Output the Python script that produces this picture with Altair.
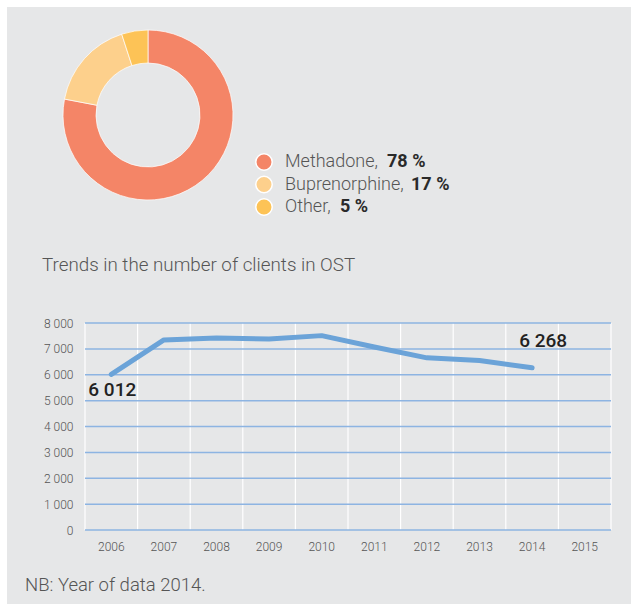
import altair as alt
import pandas as pd

# ---- data ----
categories = ["Methadone", "Buprenorphine", "Other"]
shares = [78, 17, 5]
slice_colors = ["#F48567", "#FDD08C", "#FDC356"]

years = ["2006", "2007", "2008", "2009", "2010", "2011", "2012", "2013", "2014", "2015"]
line_years = ["2006", "2007", "2008", "2009", "2010", "2011", "2012", "2013", "2014"]
clients = [6012, 7346, 7423, 7385, 7512, 7070, 6654, 6550, 6268]

y_ticks = [0, 1000, 2000, 3000, 4000, 5000, 6000, 7000, 8000]

chart_title = "Trends in the number of clients in OST"
note = "NB: Year of data 2014."

FONT = "Roboto"
BG = "#E6E7E8"
GRID_BLUE = "#8DB4E2"

pie_df = pd.DataFrame({"cat": categories, "share": shares, "rank": [0, 1, 2]})
pie_df["label"] = pie_df["cat"] + ","
pie_df["pct"] = pie_df["share"].astype(str) + " %"

line_df = pd.DataFrame({"year": line_years, "clients": clients})
ends_df = line_df.iloc[[0, -1]].copy()
ends_df["txt"] = ends_df["clients"].apply(lambda v: f"{v:,}".replace(",", " "))
years_df = pd.DataFrame({"year": years})
ticks_df = pd.DataFrame({"v": y_ticks})

color_scale = alt.Scale(domain=categories, range=slice_colors)
x_scale = alt.Scale(domain=years, type="band", paddingInner=0, paddingOuter=0)
y_scale = alt.Scale(domain=[0, 8000], nice=False)

x_axis = alt.Axis(
    title=None, grid=False, domain=False, ticks=False, labelAngle=0, labelFont=FONT,
    labelFontWeight=300, labelFontSize=12, labelColor="#555555", labelPadding=11, zindex=1,
)
y_axis = alt.Axis(
    title=None, orient="left", values=y_ticks, grid=False, domain=False, ticks=False,
    labelFont=FONT, labelFontWeight=300, labelFontSize=12, labelColor="#555555",
    labelPadding=12, zindex=1,
    labelExpr="replace(format(datum.value, ','), ',', ' ')",
)

# ---- background panel ----
panel = alt.Chart(pd.DataFrame({"k": [0]})).mark_rect(color=BG).encode(
    x=alt.value(-78), x2=alt.value(546), y=alt.value(-316), y2=alt.value(290)
)

# ---- grid (drawn from the scales) ----
vgrid = alt.Chart(years_df).mark_rule(color="white", strokeWidth=1.2).encode(
    x=alt.X("year:O", scale=x_scale, bandPosition=0, axis=x_axis),
    y=alt.value(0), y2=alt.value("height"),
)
vgrid_end = alt.Chart(years_df).transform_filter(alt.datum.year == years[-1]).mark_rule(
    color="white", strokeWidth=1.2
).encode(
    x=alt.X("year:O", scale=x_scale, bandPosition=1, axis=x_axis),
    y=alt.value(0), y2=alt.value("height"),
)
hgrid = alt.Chart(ticks_df).mark_rule(color=GRID_BLUE, strokeWidth=1.5).encode(
    y=alt.Y("v:Q", scale=y_scale, axis=None),
    x=alt.value(0), x2=alt.value("width"),
)

# ---- donut ----
donut = alt.Chart(pie_df).mark_arc(
    innerRadius=52, outerRadius=85, stroke="white", strokeWidth=0.7
).encode(
    theta=alt.Theta("share:Q", stack=True),
    color=alt.Color("cat:N", scale=color_scale, legend=None),
    order=alt.Order("rank:Q"),
    x=alt.value(63),
    y=alt.value(-208),
)

leg_y = alt.Y("cat:N", scale=alt.Scale(domain=categories, range=[-161, -116], type="point", padding=0), axis=None)

leg_pts = alt.Chart(pie_df).mark_point(filled=True, size=270, stroke="white", strokeWidth=1.5, opacity=1).encode(
    x=alt.value(179),
    y=leg_y,
    color=alt.Color("cat:N", scale=color_scale, legend=None),
)

leg_txt = alt.Chart(pie_df).mark_text(
    align="left", baseline="middle", font=FONT, fontSize=18, fontWeight=300, color="#555555"
).encode(x=alt.value(200), y=leg_y, text="label:N")

bold_dx = {"Methadone": 102, "Buprenorphine": 126, "Other": 55}
leg_bold = [
    alt.Chart(pie_df).transform_filter(alt.datum.cat == c).mark_text(
        align="left", baseline="middle", font=FONT, fontSize=18, fontWeight="bold", color="#2A2A2A", dx=bold_dx[c]
    ).encode(x=alt.value(200), y=leg_y, text="pct:N")
    for c in categories
]

# ---- headings ----
title_txt = alt.Chart(pd.DataFrame({"t": [chart_title]})).mark_text(
    align="left", baseline="middle", font=FONT, fontSize=18.8, fontWeight=300, color="#555555"
).encode(x=alt.value(-43), y=alt.value(-58), text="t:N")

note_txt = alt.Chart(pd.DataFrame({"t": [note]})).mark_text(
    align="left", baseline="middle", font=FONT, fontSize=18.5, fontWeight=300, color="#555555"
).encode(x=alt.value(-60), y=alt.value(262), text="t:N")

# ---- line chart ----
line = alt.Chart(line_df).mark_line(
    color="#6BA3D8", strokeWidth=5, strokeCap="round", strokeJoin="round"
).encode(
    x=alt.X("year:O", scale=x_scale, axis=x_axis, bandPosition=0.5),
    y=alt.Y("clients:Q", scale=y_scale, axis=y_axis),
)

lbl_x = alt.X("year:O", scale=x_scale, axis=x_axis, bandPosition=0.5)
lbl_y = alt.Y("clients:Q", scale=y_scale, axis=None)

first_lbl = alt.Chart(ends_df).transform_filter(alt.datum.year == line_years[0]).mark_text(
    font=FONT, fontSize=19, fontWeight=500, color="#222222", align="center", baseline="middle", dx=1, dy=16
).encode(x=lbl_x, y=lbl_y, text="txt:N")

last_lbl = alt.Chart(ends_df).transform_filter(alt.datum.year == line_years[-1]).mark_text(
    font=FONT, fontSize=19, fontWeight=500, color="#222222", align="center", baseline="middle", dx=11, dy=-27
).encode(x=lbl_x, y=lbl_y, text="txt:N")

chart = alt.layer(
    panel, vgrid, vgrid_end, hgrid, line, first_lbl, last_lbl,
    donut, leg_pts, leg_txt, *leg_bold, title_txt, note_txt
).resolve_scale(y="independent").properties(
    width=526, height=207,
    autosize=alt.AutoSizeParams(type="none"),
    padding={"left": 85, "top": 323, "right": 29, "bottom": 74},
    background="white",
).configure_view(stroke=None)

chart.save("out.html", embed_options={"renderer": "svg", "actions": False})
